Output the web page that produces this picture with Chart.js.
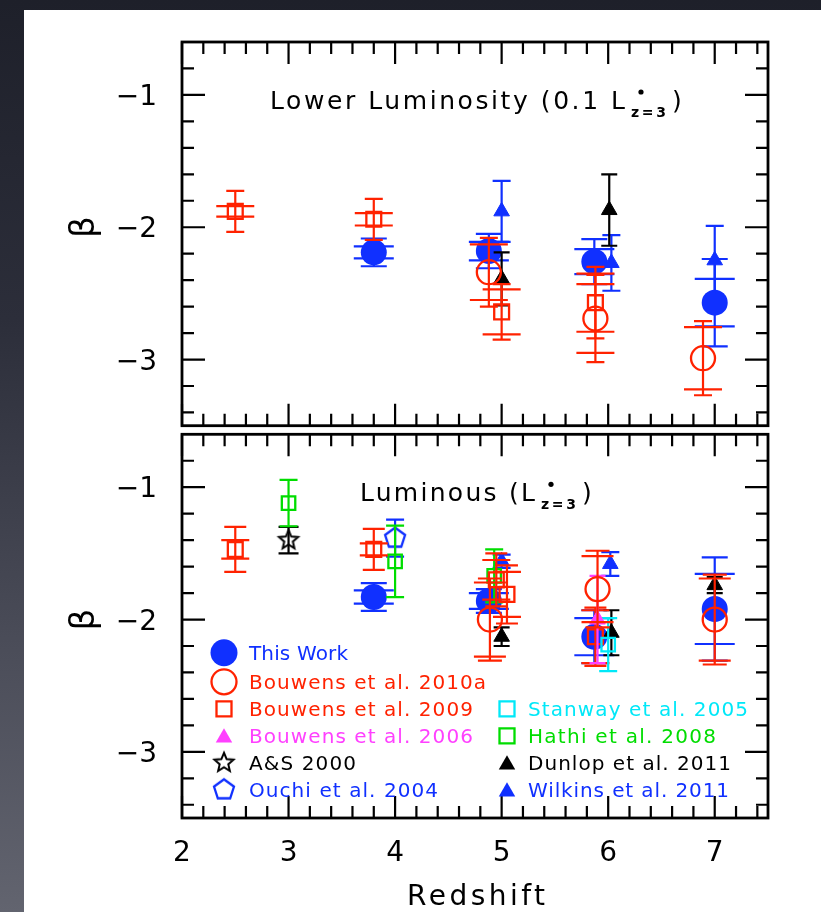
<!DOCTYPE html>
<html>
<head>
<meta charset="utf-8">
<script src="https://cdn.jsdelivr.net/npm/chart.js@4.4.0/dist/chart.umd.min.js"></script>
<style>
  html, body { margin: 0; padding: 0; }
  body {
    width: 821px; height: 912px; overflow: hidden; position: relative;
    background: linear-gradient(180deg, #1e202a 0%, #2c2e3a 35%, #4a4c58 70%, #62646f 100%);
  }
  #card { position: absolute; left: 24px; top: 10px; right: 0; bottom: 0; background: #fff; }
  canvas { position: absolute; left: 0; }
  #faint { top: 0; }
  #bright { top: 420px; }
</style>
</head>
<body>
<div id="card"></div>
<canvas id="faint" width="821" height="440"></canvas>
<canvas id="bright" width="821" height="492"></canvas>
<script>
// ---------------- axes ----------------
const redshiftTicks  = [2, 3, 4, 5, 6, 7];
const redshiftLabels = ['2', '3', '4', '5', '6', '7'];
const betaTicks      = [-1, -2, -3];
const betaLabels     = ['\u22121', '\u22122', '\u22123'];

// ---------------- lower luminosity (0.1 L*) ----------------
const twZ            = [3.8, 4.88, 5.87, 7.0];
const twFaint        = [-2.19, -2.18, -2.26, -2.57];
const twFaintErr     = [0.105, 0.13, 0.17, 0.33];
const twFaintSys     = [0.045, 0.07, 0.095, 0.18];

const b10FaintZ      = [4.88, 5.88, 6.89];
const b10Faint       = [-2.34, -2.69, -2.99];
const b10FaintErr    = [0.26, 0.33, 0.28];
const b10FaintSys    = [0.21, 0.26, 0.235];

const b09FaintZ      = [2.5, 3.8, 5.0, 5.88];
const b09Faint       = [-1.88, -1.94, -2.64, -2.57];
const b09FaintErr    = [0.155, 0.155, 0.21, 0.27];
const b09FaintSys    = [0.04, 0.047, 0.17, 0.22];

const dunFaintZ      = [5.0, 6.01];
const dunFaint       = [-2.39, -1.87];
const dunFaintErr    = [0.2, 0.27];

const wilFaintZ      = [5.0, 6.03, 7.0];
const wilFaint       = [-1.88, -2.27, -2.25];
const wilFaintErr    = [0.23, 0.21, 0.26];

// ---------------- luminous (L*) ----------------
const twBright       = [-1.83, -1.86, -2.13, -1.92];
const twBrightErr    = [0.105, 0.09, 0.2, 0.39];
const twBrightSys    = [0.05, 0.06, 0.14, 0.265];

const b10BrightZ     = [4.89, 5.9, 7.0];
const b10Bright      = [-2.0, -1.77, -2.0];
const b10BrightErr   = [0.31, 0.29, 0.34];
const b10BrightSys   = [0.28, 0.25, 0.31];

const b09BrightZ     = [2.5, 3.8, 4.95, 5.05, 5.88];
const b09Bright      = [-1.47, -1.47, -1.70, -1.81, -2.13];
const b09BrightErr   = [0.17, 0.155, 0.2, 0.22, 0.22];
const b09BrightSys   = [0.07, 0.045, 0.15, 0.17, 0.2];

const b06BrightZ     = [5.9];
const b06Bright      = [-2.0];
const b06BrightErr   = [0.33];

const asZ            = [3.0];
const asBright       = [-1.40];
const asBrightErr    = [0.1];

const ouchiZ         = [4.0];
const ouchiBright    = [-1.385];
const ouchiBrightErr = [0.14];

const stanZ          = [6.0];
const stanBright     = [-2.19];
const stanBrightErr  = [0.2];

const hathiZ         = [3.0, 4.0, 4.93];
const hathiBright    = [-1.12, -1.56, -1.67];
const hathiBrightErr = [0.175, 0.27, 0.2];

const dunBrightZ     = [5.0, 6.03, 7.0];
const dunBright      = [-2.13, -2.1, -1.74];
const dunBrightErr   = [0.07, 0.17, 0.06];

const wilBrightZ     = [5.0, 6.02];
const wilBright      = [-1.56, -1.58];
const wilBrightErr   = [0.05, 0.09];

// ---------------- styling ----------------
const BLUE = '#1030ff', RED = '#ff2200', MAGENTA = '#ff40ff',
      GREEN = '#00dd00', CYAN = '#00e8f8', BLACK = '#000000';
const FONT = '"DejaVu Sans", "Liberation Sans", sans-serif';

// outline glyphs that Chart.js has no built-in style for
function outlineGlyph(kind, r, color, lw) {
  const s = Math.ceil(2 * r + 2 * lw + 2);
  const c = document.createElement('canvas');
  c.width = s; c.height = s;
  const g = c.getContext('2d');
  g.strokeStyle = color; g.lineWidth = lw; g.lineJoin = 'miter';
  const n = kind === 'star' ? 10 : 5;
  g.beginPath();
  for (let k = 0; k < n; k++) {
    const ang = -Math.PI / 2 + k * 2 * Math.PI / n;
    const rr = kind === 'star' ? (k % 2 ? r * 0.45 : r) : r;
    const px = s / 2 + rr * Math.cos(ang), py = s / 2 + rr * Math.sin(ang);
    if (k) g.lineTo(px, py); else g.moveTo(px, py);
  }
  g.closePath(); g.stroke();
  return c;
}
const starGlyph = outlineGlyph('star', 10, BLACK, 2);
const pentGlyph = outlineGlyph('pent', 10.5, BLUE, 2.3);

const NONE = 'rgba(0,0,0,0)';
const styles = {
  thisWork: { pointStyle: 'circle', pointRadius: 13, backgroundColor: BLUE, borderColor: BLUE, borderWidth: 0, errColor: BLUE, capOuter: 13, capInner: 20, legend: 'disc' },
  b10:      { pointStyle: 'circle', pointRadius: 12, backgroundColor: NONE, borderColor: RED, borderWidth: 2.3, errColor: RED, capOuter: 9, capInner: 19, legend: 'ring' },
  b09:      { pointStyle: 'rect', pointRadius: 10.5, backgroundColor: NONE, borderColor: RED, borderWidth: 2.3, errColor: RED, capOuter: 9, capInner: 19, legend: 'square' },
  b06:      { pointStyle: 'triangle', pointRadius: 9, backgroundColor: MAGENTA, borderColor: MAGENTA, borderWidth: 1, errColor: MAGENTA, capOuter: 8, legend: 'tri' },
  as:       { pointStyle: starGlyph, pointRadius: 10, backgroundColor: NONE, borderColor: BLACK, borderWidth: 0, errColor: BLACK, capOuter: 10, legend: 'star' },
  ouchi:    { pointStyle: pentGlyph, pointRadius: 10, backgroundColor: NONE, borderColor: BLUE, borderWidth: 0, errColor: BLUE, capOuter: 9, legend: 'pent' },
  stan:     { pointStyle: 'rect', pointRadius: 9.5, backgroundColor: NONE, borderColor: CYAN, borderWidth: 2.3, errColor: CYAN, capOuter: 9, legend: 'square' },
  hathi:    { pointStyle: 'rect', pointRadius: 9.5, backgroundColor: NONE, borderColor: GREEN, borderWidth: 2.3, errColor: GREEN, capOuter: 9, legend: 'square' },
  dun:      { pointStyle: 'triangle', pointRadius: 9, backgroundColor: BLACK, borderColor: BLACK, borderWidth: 1, errColor: BLACK, capOuter: 8, legend: 'tri' },
  wil:      { pointStyle: 'triangle', pointRadius: 9, backgroundColor: BLUE, borderColor: BLUE, borderWidth: 1, errColor: BLUE, capOuter: 9, legend: 'tri' }
};

function series(label, style, z, beta, err, sys, extra) {
  return Object.assign({
    label,
    data: z.map((v, i) => ({ x: v, y: beta[i] })),
    errOuter: err, errInner: sys || null,
    showLine: false, clip: false
  }, styles[style], extra || {});
}

// ---------------- plugins ----------------
// error bars are drawn just beneath each dataset's own markers
const errorBars = {
  id: 'errorBars',
  beforeDatasetDraw(chart, args) {
    const ds = chart.data.datasets[args.index];
    const { ctx } = chart;
    const xs = chart.scales.x, ys = chart.scales.y;
    ctx.save();
    ctx.strokeStyle = ds.errColor; ctx.lineWidth = 2.2; ctx.lineCap = 'butt';
    ctx.beginPath();
    ds.data.forEach((p, j) => {
      const px = xs.getPixelForValue(p.x);
      const e1 = ds.errOuter ? ds.errOuter[j] : 0;
      if (e1) {
        const t = ys.getPixelForValue(p.y + e1), b = ys.getPixelForValue(p.y - e1);
        ctx.moveTo(px, t); ctx.lineTo(px, b);
        const c = ds.capOuter;
        ctx.moveTo(px - c, t); ctx.lineTo(px + c, t);
        ctx.moveTo(px - c, b); ctx.lineTo(px + c, b);
      }
      const e2 = ds.errInner ? ds.errInner[j] : 0;
      if (e2) {
        const t = ys.getPixelForValue(p.y + e2), b = ys.getPixelForValue(p.y - e2);
        const c = ds.capInner;
        ctx.moveTo(px - c, t); ctx.lineTo(px + c, t);
        ctx.moveTo(px - c, b); ctx.lineTo(px + c, b);
      }
    });
    ctx.stroke();
    ctx.restore();
  }
};

function spacedText(ctx, text, x, y, width) {
  ctx.letterSpacing = '0px';
  const w0 = ctx.measureText(text).width;
  const sp = text.length > 1 ? (width - w0) / (text.length - 1) : 0;
  ctx.letterSpacing = sp.toFixed(2) + 'px';
  ctx.fillText(text, x, y);
  ctx.letterSpacing = '0px';
}

// panel box, inward ticks on all four sides, beta tick labels and axis symbol
const frame = {
  id: 'frame',
  afterDraw(chart) {
    const { ctx, chartArea: a } = chart;
    const xs = chart.scales.x, ys = chart.scales.y;
    ctx.save();
    ctx.strokeStyle = BLACK; ctx.lineWidth = 2.2; ctx.lineCap = 'butt';
    ctx.beginPath();
    for (let k = 0; k <= 30; k++) {
      const v = 2 + k * 0.2;
      if (v > 7.45) break;
      const px = xs.getPixelForValue(v);
      const L = Math.abs(v - Math.round(v)) < 1e-6 ? 22 : 12;
      ctx.moveTo(px, a.top); ctx.lineTo(px, a.top + L);
      ctx.moveTo(px, a.bottom); ctx.lineTo(px, a.bottom - L);
    }
    for (let k = 1; k <= 20; k++) {
      const v = -0.6 - k * 0.2;
      if (v < -3.45) break;
      const py = ys.getPixelForValue(v);
      const L = Math.abs(v - Math.round(v)) < 1e-6 ? 23 : 12;
      ctx.moveTo(a.left, py); ctx.lineTo(a.left + L, py);
      ctx.moveTo(a.right, py); ctx.lineTo(a.right - L, py);
    }
    ctx.stroke();
    ctx.lineWidth = 2.8;
    ctx.strokeRect(a.left, a.top, a.right - a.left, a.bottom - a.top);

    ctx.fillStyle = BLACK;
    ctx.font = '28px ' + FONT;
    ctx.textAlign = 'right'; ctx.textBaseline = 'alphabetic';
    betaTicks.forEach((v, i) => ctx.fillText(betaLabels[i], a.left - 25, ys.getPixelForValue(v) + 10));

    ctx.save();
    ctx.translate(a.left - 97, ys.getPixelForValue(-2));
    ctx.rotate(-Math.PI / 2);
    ctx.textAlign = 'center'; ctx.textBaseline = 'middle';
    ctx.font = '34px ' + FONT;
    ctx.fillText('\u03b2', 0, 0);
    ctx.restore();
    ctx.restore();
  }
};

// "<text> L*_{z=3})" panel heading
function heading(ctx, a, text, dx, width) {
  const base = a.top + 67;
  const x0 = a.left + dx;
  ctx.fillStyle = BLACK; ctx.textAlign = 'left'; ctx.textBaseline = 'alphabetic';
  ctx.font = '25px ' + FONT;
  spacedText(ctx, text, x0, base, width);
  const sx = x0 + width + 6;
  ctx.font = 'bold 14px ' + FONT;
  spacedText(ctx, 'z=3', sx, base + 8, 35);
  ctx.beginPath(); ctx.arc(sx + 10, base - 17, 2.6, 0, Math.PI * 2); ctx.fill();
  ctx.font = '25px ' + FONT;
  ctx.fillText(')', sx + 41, base);
}

const faintDecor = {
  id: 'faintDecor',
  afterDraw(chart) {
    heading(chart.ctx, chart.chartArea, 'Lower Luminosity (0.1 L', 88, 355);
  }
};

function legendMark(ctx, kind, x, y, color) {
  ctx.save();
  ctx.fillStyle = color; ctx.strokeStyle = color; ctx.lineWidth = 2.3;
  ctx.beginPath();
  if (kind === 'disc') { ctx.arc(x, y, 13.5, 0, Math.PI * 2); ctx.fill(); }
  else if (kind === 'ring') { ctx.arc(x, y, 12.5, 0, Math.PI * 2); ctx.stroke(); }
  else if (kind === 'square') { ctx.rect(x - 7.5, y - 7.5, 15, 15); ctx.stroke(); }
  else if (kind === 'tri') {
    for (let k = 0; k < 3; k++) {
      const ang = -Math.PI / 2 + k * 2 * Math.PI / 3;
      const px = x + 9.5 * Math.cos(ang), py = y + 2 + 9.5 * Math.sin(ang);
      if (k) ctx.lineTo(px, py); else ctx.moveTo(px, py);
    }
    ctx.closePath(); ctx.fill();
  }
  else if (kind === 'star') ctx.drawImage(starGlyph, x - starGlyph.width / 2, y - starGlyph.height / 2);
  else if (kind === 'pent') ctx.drawImage(pentGlyph, x - pentGlyph.width / 2, y - pentGlyph.height / 2);
  ctx.restore();
}

// legend slots: column, row, text width
const legendSlots = {
  'This Work':             [0, 0, 99],
  'Bouwens et al. 2010a':  [0, 1, 237],
  'Bouwens et al. 2009':   [0, 2, 224],
  'Bouwens et al. 2006':   [0, 3, 224],
  'A&S 2000':              [0, 4, 107],
  'Ouchi et al. 2004':     [0, 5, 189],
  'Stanway et al. 2005':   [1, 2, 220],
  'Hathi et al. 2008':     [1, 3, 188],
  'Dunlop et al. 2011':    [1, 4, 203],
  'Wilkins et al. 2011':   [1, 5, 201]
};
const legendBaselines = [226, 255, 282, 309, 336, 363];

const brightDecor = {
  id: 'brightDecor',
  afterDraw(chart) {
    const { ctx, chartArea: a } = chart;
    const xs = chart.scales.x;
    heading(ctx, a, 'Luminous (L', 178, 175);

    ctx.save();
    ctx.fillStyle = BLACK; ctx.font = '28px ' + FONT;
    ctx.textAlign = 'center'; ctx.textBaseline = 'alphabetic';
    redshiftTicks.forEach((v, i) => ctx.fillText(redshiftLabels[i], xs.getPixelForValue(v), a.bottom + 43));
    ctx.textAlign = 'left';
    spacedText(ctx, 'Redshift', a.left + 225, a.bottom + 87, 138);

    ctx.font = '20px ' + FONT;
    chart.data.datasets.forEach(ds => {
      const slot = legendSlots[ds.label];
      if (!slot) return;
      const [col, row, w] = slot;
      const base = a.top + legendBaselines[row];
      const mx = a.left + (col ? 325 : 42), tx = a.left + (col ? 346 : 67);
      legendMark(ctx, ds.legend, mx, base - 7.5, ds.errColor);
      ctx.fillStyle = ds.errColor;
      spacedText(ctx, ds.label, tx, base, w);
    });
    ctx.restore();
  }
};

function makeChart(id, datasets, padding, decor) {
  // first dataset in the list is painted first (lowest)
  datasets.forEach((d, i) => { d.order = datasets.length - i; d.pointHoverRadius = d.pointRadius; });
  return new Chart(document.getElementById(id), {
    type: 'scatter',
    data: { datasets },
    options: {
      responsive: false, animation: false, events: [],
      layout: { padding },
      scales: {
        x: { type: 'linear', min: 2, max: 7.5, display: false },
        y: { type: 'linear', min: -3.5, max: -0.6, display: false }
      },
      plugins: { legend: { display: false }, tooltip: { enabled: false } }
    },
    plugins: [errorBars, frame, decor]
  });
}

makeChart('faint', [
  series('This Work', 'thisWork', twZ, twFaint, twFaintErr, twFaintSys),
  series('Wilkins et al. 2011', 'wil', wilFaintZ, wilFaint, wilFaintErr),
  series('Dunlop et al. 2011', 'dun', dunFaintZ, dunFaint, dunFaintErr),
  series('Bouwens et al. 2009', 'b09', b09FaintZ, b09Faint, b09FaintErr, b09FaintSys),
  series('Bouwens et al. 2010a', 'b10', b10FaintZ, b10Faint, b10FaintErr, b10FaintSys)
], { left: 182, right: 53, top: 42, bottom: 10 }, faintDecor);

makeChart('bright', [
  series('This Work', 'thisWork', twZ, twBright, twBrightErr, twBrightSys),
  series('Wilkins et al. 2011', 'wil', wilBrightZ, wilBright, wilBrightErr),
  series('Dunlop et al. 2011', 'dun', dunBrightZ, dunBright, dunBrightErr),
  series('Ouchi et al. 2004', 'ouchi', ouchiZ, ouchiBright, ouchiBrightErr),
  series('A&S 2000', 'as', asZ, asBright, asBrightErr),
  series('Hathi et al. 2008', 'hathi', hathiZ, hathiBright, hathiBrightErr),
  series('Bouwens et al. 2009', 'b09', b09BrightZ, b09Bright, b09BrightErr, b09BrightSys, { capOuter: 11, capInner: 14 }),
  series('Stanway et al. 2005', 'stan', stanZ, stanBright, stanBrightErr),
  series('Bouwens et al. 2006', 'b06', b06BrightZ, b06Bright, b06BrightErr),
  series('Bouwens et al. 2010a', 'b10', b10BrightZ, b10Bright, b10BrightErr, b10BrightSys, { capOuter: 12, capInner: 16 })
], { left: 182, right: 53, top: 10, bottom: 94 }, brightDecor);
</script>
</body>
</html>
